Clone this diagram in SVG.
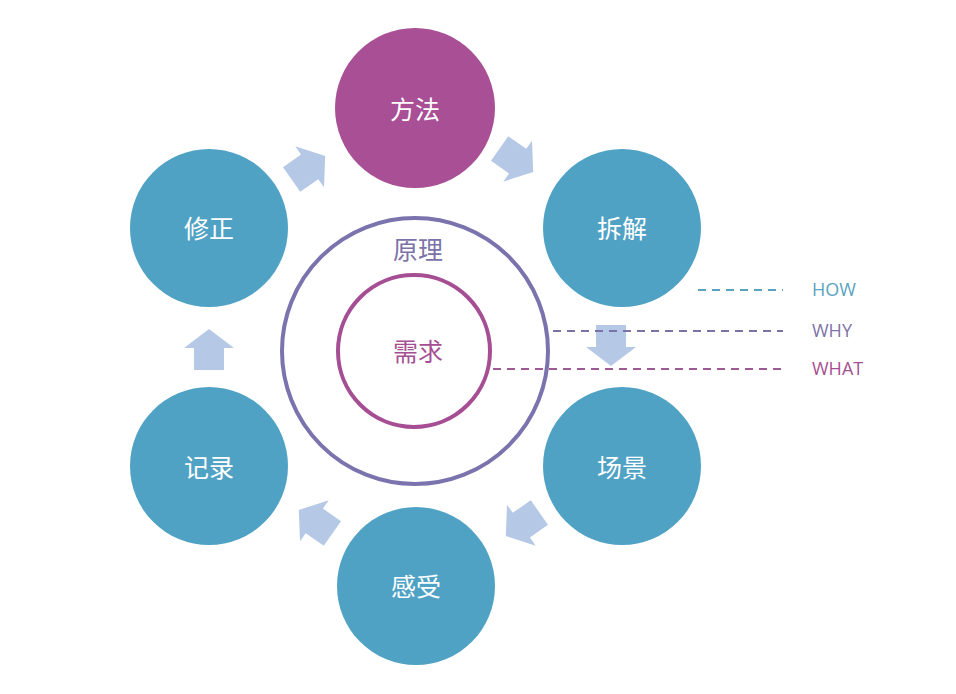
<svg xmlns="http://www.w3.org/2000/svg" width="956" height="694" viewBox="0 0 956 694">
<style>
.n{fill:#50a2c5}
.t{font-family:"Noto Sans CJK SC",sans-serif;font-size:25px;fill:#fff;text-anchor:middle;dominant-baseline:central}
.a{fill:#b5c9e7}
.l{font-family:"Open Sans","Liberation Sans",sans-serif;font-size:18px}
</style>
<defs><path id="ar" d="M-20,-15H2V-25L21,0L2,25V15H-20Z"/></defs>
<rect width="956" height="694" fill="#fff"/>
<g id="connectors">
<use href="#ar" class="a" transform="translate(308,168) rotate(-35)"/>
<use href="#ar" class="a" transform="translate(516,160) rotate(35)"/>
<use href="#ar" class="a" transform="translate(611,345) rotate(90)"/>
<use href="#ar" class="a" transform="translate(523,524) rotate(145)"/>
<use href="#ar" class="a" transform="translate(316,522) rotate(215)"/>
<use href="#ar" class="a" transform="translate(209,350) rotate(-90)"/>
<line x1="698" y1="290" x2="783" y2="290" stroke="#5aa3bf" stroke-width="2" stroke-dasharray="8,6"/>
<line x1="553" y1="331" x2="783" y2="331" stroke="#7b73a8" stroke-width="2" stroke-dasharray="8,6"/>
<line x1="493" y1="369" x2="783" y2="369" stroke="#a05a92" stroke-width="2" stroke-dasharray="8,6"/>
</g>
<g id="yuanli"><circle cx="415" cy="351" r="133" fill="none" stroke="#7b73ae" stroke-width="4"/><text x="418" y="248" class="t" style="fill:#7b73a8">原理</text></g>
<g id="xuqiu"><circle cx="414" cy="351" r="76" fill="none" stroke="#a64e93" stroke-width="4"/><text x="418" y="350" class="t" style="fill:#a64e93">需求</text></g>
<g id="fangfa"><circle cx="415" cy="108" r="80" fill="#a84f96"/><text x="415" y="108" class="t">方法</text></g>
<g id="chaijie"><circle cx="622" cy="228" r="79" class="n"/><text x="622" y="227" class="t">拆解</text></g>
<g id="changjing"><circle cx="622" cy="466" r="79" class="n"/><text x="622" y="466" class="t">场景</text></g>
<g id="ganshou"><circle cx="416" cy="586" r="79" class="n"/><text x="416" y="585" class="t">感受</text></g>
<g id="jilu"><circle cx="209" cy="466" r="79" class="n"/><text x="209" y="466" class="t">记录</text></g>
<g id="xiuzheng"><circle cx="209" cy="228" r="79" class="n"/><text x="209" y="227" class="t">修正</text></g>
<g id="legend">
<text x="812" y="296" class="l" fill="#5aa3bf">HOW</text>
<text x="812" y="337" class="l" fill="#7b73a8">WHY</text>
<text x="812" y="375" class="l" fill="#a64e93">WHAT</text>
</g>
</svg>
